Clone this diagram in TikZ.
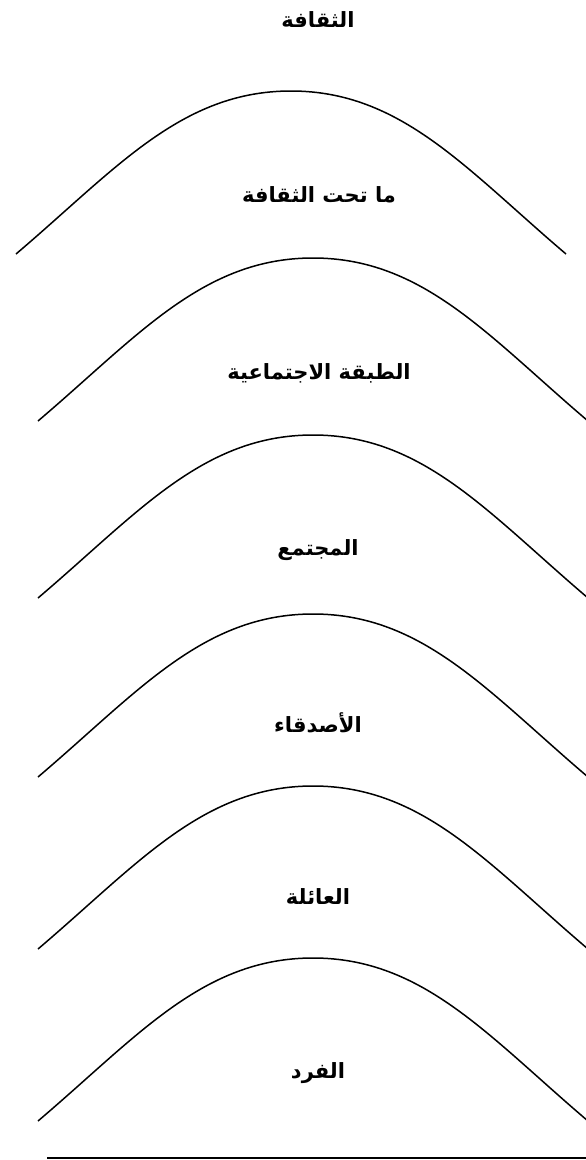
\documentclass[tikz,border=0pt]{standalone}
\usepackage{fontspec}
\usetikzlibrary{calc}
\newfontfamily\arabicfont[Script=Arabic]{DejaVu Sans}
\TeXXeTstate=1
\begin{document}
\begin{tikzpicture}[x=1pt,y=-1pt,
  lbl/.style={font=\arabicfont\bfseries\fontsize{21}{24}\selectfont, inner sep=0pt},
  bell/.style={line width=1.5pt, line join=round}]
\clip (0,0) rectangle (586,1160);
\useasboundingbox (0,0) rectangle (586,1160);
% bell curves: centre cx, peak py, half width 275, height 163
\foreach \cx/\py [count=\i] in {291/91, 313/258, 313/435, 313/614, 313/786, 313/958}{
  \coordinate (L\i) at (\cx-275,\py+163);
  \coordinate (P\i) at (\cx,\py);
  \coordinate (R\i) at (\cx+275,\py+163);
  \draw[bell] (L\i) .. controls ($(L\i)+(100,-85)$) and ($(P\i)+(-110,0)$) .. (P\i)
                    .. controls ($(P\i)+(110,0)$) and ($(R\i)+(-100,-85)$) .. (R\i);
}
\node[lbl] (t0) at (318,20) {\beginR الثقافة\endR};
\node[lbl] (t1) at (319,195) {\beginR ما تحت الثقافة\endR};
\node[lbl] (t2) at (319,373) {\beginR الطبقة الاجتماعية\endR};
\node[lbl] (t3) at (318,550) {\beginR المجتمع\endR};
\node[lbl] (t4) at (318,723) {\beginR الأصدقاء\endR};
\node[lbl] (t5) at (318,897) {\beginR العائلة\endR};
\node[lbl] (t6) at (318,1073) {\beginR الفرد\endR};
\coordinate (b1) at (47,1158);
\coordinate (b2) at (586,1158);
\draw[line width=1.2pt] (b1) -- (b2);
\end{tikzpicture}
\end{document}
